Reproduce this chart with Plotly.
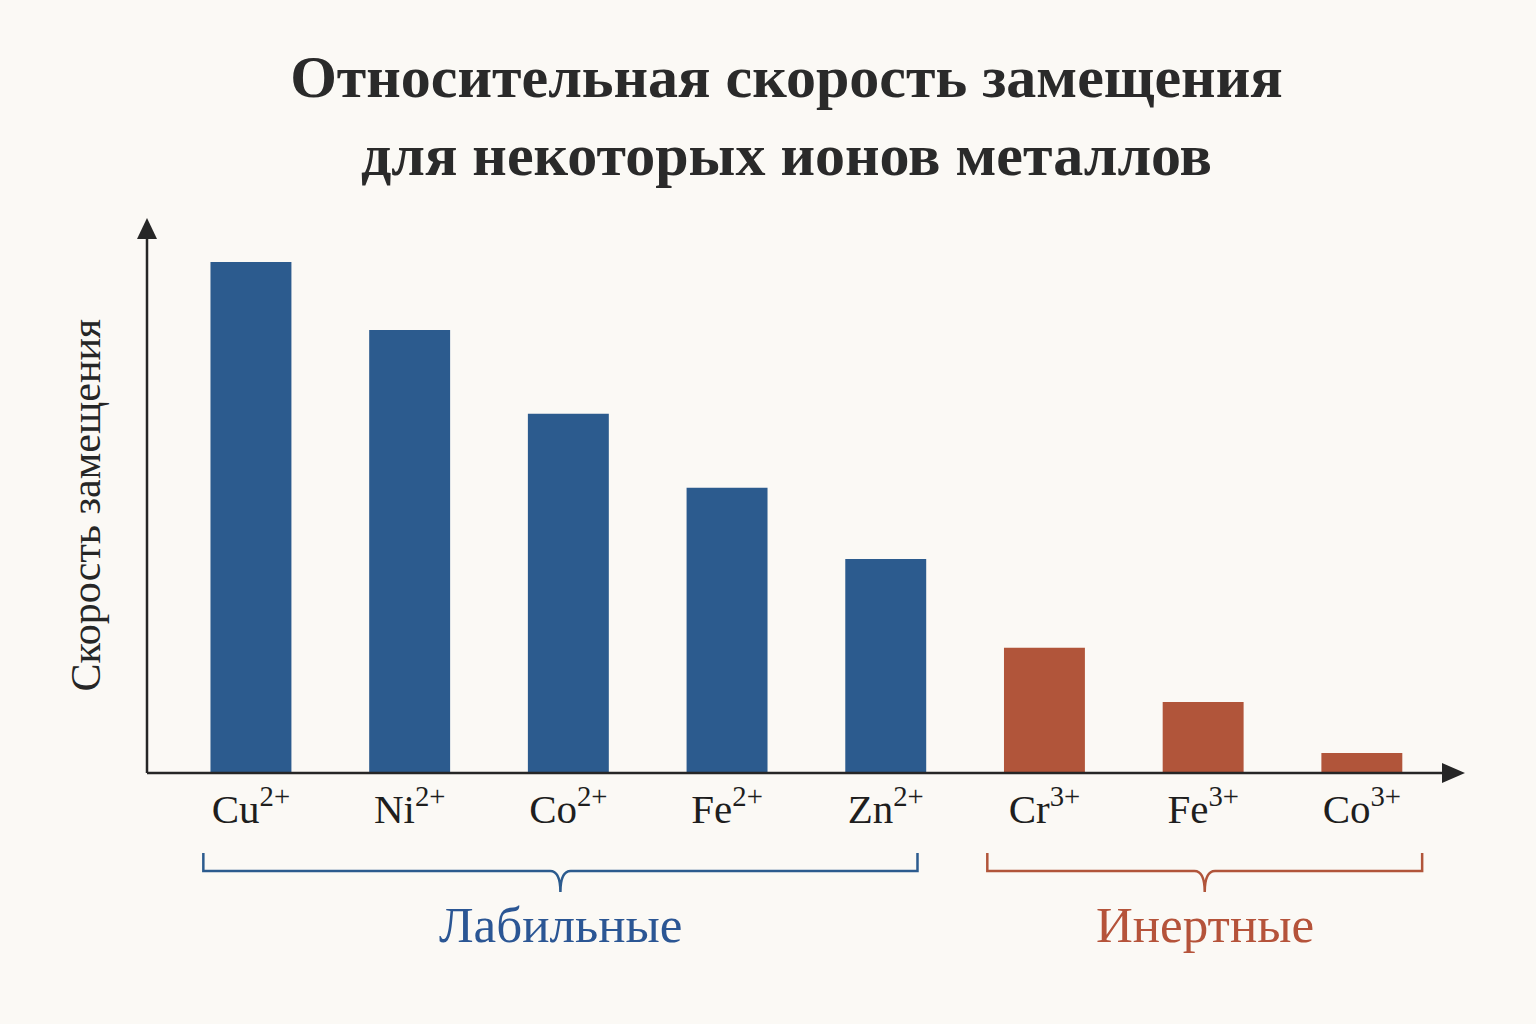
import plotly.graph_objects as go

# Data (relative substitution rate, Cu2+ = 100)
ions = ["Cu", "Ni", "Co", "Fe", "Zn", "Cr", "Fe", "Co"]
charges = ["2+", "2+", "2+", "2+", "2+", "3+", "3+", "3+"]
rates = [100, 86.7, 70.3, 55.8, 41.9, 24.5, 13.9, 3.9]
groups = ["Лабильные"] * 5 + ["Инертные"] * 3

group_names = ["Лабильные", "Инертные"]
group_colors = {"Лабильные": "#2c5b8e", "Инертные": "#b1553a"}
label_colors = {"Лабильные": "#2b5694", "Инертные": "#b5533a"}
# how far each bracket reaches past its outer bars (category units)
bracket_pad = {"Лабильные": (0.30, 0.20), "Инертные": (0.36, 0.38)}

bg = "#fbf9f5"
ink = "#262626"
font = "Liberation Serif"

x = list(range(len(ions)))
ticktext = [f"{ion}<sup>{c}</sup>" for ion, c in zip(ions, charges)]

fig = go.Figure()
fig.add_trace(go.Bar(
    x=x, y=rates,
    marker=dict(color=[group_colors[g] for g in groups], line=dict(width=0)),
    width=0.51,
    hoverinfo="skip",
))

# plot area in pixels: left 147, right 1465, top 218, bottom 773
W, H = 1318, 555

# axis lines with arrowheads (paper coords)
shapes = [
    dict(type="line", xref="paper", yref="paper", x0=0, y0=0, x1=0, y1=0.97,
         line=dict(color=ink, width=2.5)),
    dict(type="line", xref="paper", yref="paper", x0=0, y0=0, x1=0.985, y1=0,
         line=dict(color=ink, width=2.5)),
    dict(type="path", xref="paper", yref="paper",
         path=f"M 0,1 L {-10/W},{1-21/H} L {10/W},{1-21/H} Z",
         fillcolor=ink, line=dict(width=0)),
    dict(type="path", xref="paper", yref="paper",
         path=f"M 1,0 L {1-23/W},{10/H} L {1-23/W},{-10/H} Z",
         fillcolor=ink, line=dict(width=0)),
]

# curly brackets under each group
y_top, y_h, y_tip = (773 - 853) / H, (773 - 871) / H, (773 - 892) / H
d = 0.065
annotations = []
for g in group_names:
    idx = [i for i, gg in enumerate(groups) if gg == g]
    x0, x1 = idx[0] - bracket_pad[g][0], idx[-1] + bracket_pad[g][1]
    xc = (x0 + x1) / 2
    path = (f"M {x0},{y_top} L {x0},{y_h} L {xc-d},{y_h} "
            f"Q {xc},{y_h} {xc},{y_tip} Q {xc},{y_h} {xc+d},{y_h} "
            f"L {x1},{y_h} L {x1},{y_top}")
    shapes.append(dict(type="path", xref="x", yref="paper", path=path,
                       line=dict(color=group_colors[g], width=2.5)))
    annotations.append(dict(
        x=xc, y=(773 - 925) / H, xref="x", yref="paper", text=g,
        showarrow=False, xanchor="center", yanchor="middle",
        font=dict(family=font, size=51, color=label_colors[g]),
    ))

annotations.append(dict(
    x=0, y=0.5, xref="paper", yref="paper", xshift=-62, yshift=-10,
    text="Скорость замещения", textangle=-90, showarrow=False,
    xanchor="center", yanchor="middle",
    font=dict(family=font, size=42, color=ink),
))

fig.update_layout(
    width=1536, height=1024,
    paper_bgcolor=bg, plot_bgcolor=bg,
    margin=dict(l=147, r=71, t=218, b=251),
    showlegend=False,
    title=dict(
        text="<b>Относительная скорость замещения<br>для некоторых ионов металлов</b>",
        x=0.512, xanchor="center", xref="container", y=0.905, yanchor="middle",
        font=dict(family=font, size=60, color="#2a2a2a"),
    ),
    xaxis=dict(
        range=[-0.655, 7.65], tickmode="array", tickvals=x, ticktext=ticktext,
        showgrid=False, zeroline=False, showline=False, ticks="",
        tickfont=dict(family=font, size=41, color="#1e1e1e"),
        ticklabelstandoff=8,
    ),
    yaxis=dict(
        range=[0, 100 * 555 / 511], showgrid=False, zeroline=False,
        showline=False, showticklabels=False, ticks="",
    ),
    shapes=shapes,
    annotations=annotations,
)

fig.write_html(
    "out.html",
    config={"displayModeBar": False},
    post_script=f"document.body.style.margin='0';document.body.style.background='{bg}';",
)
